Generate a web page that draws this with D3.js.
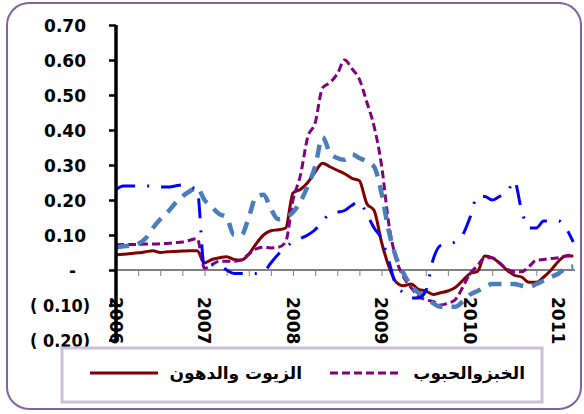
<!DOCTYPE html>
<html><head><meta charset="utf-8">
<script src="https://cdn.jsdelivr.net/npm/d3@7"></script>
<style>
html,body{margin:0;padding:0;background:#fff;}
svg{display:block;font-family:"DejaVu Sans",sans-serif;}
</style></head>
<body>
<script>
// monthly observations, Jan 2006 .. Mar 2011
const months = d3.range(63);
const oilsFats = [0.043,0.045,0.047,0.049,0.052,0.055,0.050,0.052,0.053,0.054,0.055,0.055,
 0.020,0.030,0.035,0.038,0.030,0.028,0.045,0.075,0.100,0.112,0.115,0.120,
 0.220,0.230,0.250,0.280,0.305,0.295,0.285,0.275,0.262,0.255,0.190,0.170,
 0.080,0.010,-0.035,-0.045,-0.040,-0.055,-0.060,-0.070,-0.065,-0.060,-0.050,-0.030,
 -0.010,-0.005,0.040,0.035,0.020,0.000,-0.015,-0.020,-0.035,-0.035,-0.020,0.000,
 0.025,0.040,0.040];
const breadCereals = [0.072,0.073,0.073,0.073,0.074,0.074,0.075,0.076,0.078,0.080,0.085,0.090,
 0.005,0.015,0.025,0.025,0.025,0.030,0.045,0.060,0.065,0.063,0.065,0.080,
 0.200,0.270,0.380,0.420,0.520,0.535,0.560,0.600,0.575,0.545,0.480,0.410,
 0.300,0.130,0.030,-0.020,-0.050,-0.075,-0.085,-0.090,-0.100,-0.095,-0.085,-0.050,
 -0.010,0.012,0.035,0.035,0.020,0.003,-0.005,-0.005,0.010,0.028,0.030,0.033,
 0.035,0.040,0.043];
const seriesC = [0.065,0.068,0.070,0.075,0.090,0.120,0.145,0.165,0.190,0.210,0.225,0.235,
 0.200,0.180,0.160,0.150,0.100,0.100,0.150,0.210,0.215,0.175,0.145,0.150,
 0.165,0.195,0.240,0.295,0.380,0.335,0.320,0.315,0.330,0.320,0.310,0.295,
 0.220,0.110,0.035,-0.010,-0.045,-0.065,-0.075,-0.095,-0.105,-0.105,-0.105,-0.090,
 -0.070,-0.060,-0.050,-0.040,-0.040,-0.040,-0.040,-0.045,-0.048,-0.040,-0.030,-0.020,
 -0.010,0.005,0.010];
const seriesD = [0.230,0.240,0.240,0.240,0.240,0.240,0.237,0.237,0.240,0.243,0.237,0.230,
 0.005,0.015,0.015,0.000,-0.010,-0.010,-0.010,-0.010,-0.005,0.020,0.045,0.065,
 0.080,0.090,0.100,0.115,0.140,0.160,0.165,0.170,0.185,0.195,0.160,0.120,
 0.090,0.025,-0.045,-0.065,-0.080,-0.080,-0.060,0.030,0.070,0.075,0.080,0.100,
 0.150,0.210,0.210,0.200,0.210,0.220,0.255,0.170,0.120,0.120,0.140,0.140,
 0.140,0.120,0.080];
const yTicks = [0.7,0.6,0.5,0.4,0.3,0.2,0.1,0,-0.1,-0.2];
const yTickLabels = ["0.70","0.60","0.50","0.40","0.30","0.20","0.10","-","( 0.10)","( 0.20)"];
const yearLabels = ["2006","2007","2008","2009","2010","2011"];
const legendLabels = ["الزيوت والدهون","الخبزوالحبوب"];

const W=584,H=414;
const svg=d3.select("body").append("svg").attr("width",W).attr("height",H);

// outer rounded frame
svg.append("rect").attr("x",7).attr("y",3).attr("width",574).attr("height",406)
 .attr("rx",22).attr("fill","#fff").attr("stroke","#8064A2").attr("stroke-width",2);

const x=d3.scaleLinear().domain([0,60]).range([116,558.5]);
const y=d3.scaleLinear().domain([-0.2,0.7]).range([340,25]);

// x axis (zero line) with quarterly ticks
const xAxis=svg.append("g").attr("transform",`translate(0,${y(0)})`)
 .call(d3.axisBottom(x).tickValues(d3.range(0,63,3)).tickSize(6).tickFormat(""));
xAxis.select(".domain").attr("d",`M${x(0)},0H575`).attr("stroke","#000").attr("stroke-width",1);
xAxis.selectAll(".tick line").attr("stroke","#808080").attr("stroke-width",1);

// year labels
svg.append("g").selectAll("text").data(yearLabels).join("text")
 .attr("transform",(d,i)=>`translate(${x(i*12)},297) rotate(90)`)
 .attr("dy","0.36em").attr("text-anchor","start")
 .attr("font-size",17).attr("font-weight","bold").attr("fill","#000")
 .text(d=>d);

// lines
const line=d3.line().x((d,i)=>x(months[i])).y(d=>y(d)).curve(d3.curveMonotoneX);
const series=[
 {v:oilsFats,c:"#800000",w:3,dash:null},
 {v:breadCereals,c:"#800080",w:3,dash:"8,4"},
 {v:seriesC,c:"#4A7EBB",w:4.5,dash:"13,9"},
 {v:seriesD,c:"#0000FF",w:3,dash:"20,12,2,12"}
];
svg.append("g").selectAll("path").data(series).join("path")
 .attr("d",d=>line(d.v)).attr("fill","none")
 .attr("stroke",d=>d.c).attr("stroke-width",d=>d.w)
 .attr("stroke-dasharray",d=>d.dash);

// y axis
const yAxis=svg.append("g").attr("transform","translate(116,0)")
 .call(d3.axisLeft(y).tickValues(yTicks).tickSize(7).tickPadding(0)
   .tickFormat((d,i)=>yTickLabels[i]));
yAxis.select(".domain").attr("d",`M0,${y(0.7)}V${y(-0.2)+2}`).attr("stroke","#000").attr("stroke-width",3.5);
yAxis.selectAll(".tick line").attr("stroke","#000").attr("stroke-width",2.5);
yAxis.selectAll(".tick text")
 .attr("font-size",17).attr("font-weight","bold").attr("fill","#000")
 .attr("font-family","DejaVu Sans, sans-serif")
 .attr("dy","0.36em")
 .each(function(d){
   const t=d3.select(this);
   if(d<0){ t.attr("text-anchor","start").attr("x",-86).attr("textLength",60).attr("lengthAdjust","spacingAndGlyphs"); }
   else if(d===0){ t.attr("x",-40); }
   else { t.attr("x",-30); }
 });

// legend
const lg=svg.append("g");
lg.append("rect").attr("x",62).attr("y",348).attr("width",480).attr("height",54)
 .attr("fill","#fff").attr("stroke","#CCC0DA").attr("stroke-width",3);
lg.append("line").attr("x1",90).attr("x2",158).attr("y1",373).attr("y2",373)
 .attr("stroke",series[0].c).attr("stroke-width",3);
lg.append("line").attr("x1",330).attr("x2",402).attr("y1",373).attr("y2",373)
 .attr("stroke",series[1].c).attr("stroke-width",3).attr("stroke-dasharray","8,4");
lg.selectAll("text").data(legendLabels).join("text")
 .attr("x",(d,i)=>i===0?302:525).attr("y",373).attr("dy","0.36em")
 .attr("text-anchor","end").attr("font-size",17).attr("font-weight","bold").attr("fill","#000")
 .text(d=>d);
</script>
</body></html>
